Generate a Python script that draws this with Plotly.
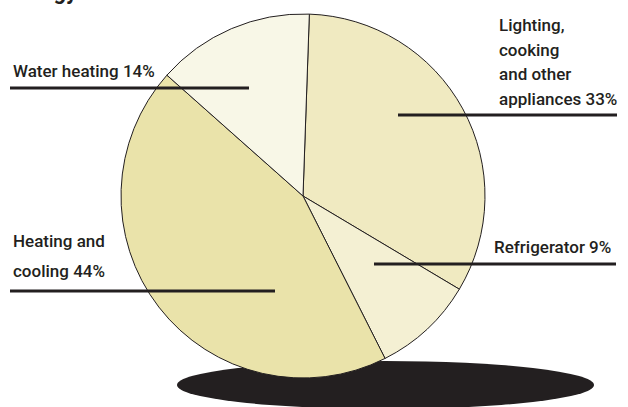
import plotly.graph_objects as go

W, H = 628, 407

labels = ["Lighting, cooking and other appliances", "Refrigerator", "Heating and cooling", "Water heating"]
values = [33, 9, 44, 14]
colors = ["#F0EAC1", "#F4F0D3", "#EAE3AA", "#F8F7E7"]

# label text lines: (text, x_px_left, baseline_px_from_top)
label_lines = [
    ("Water heating 14%", 11, 77),
    ("Lighting,", 497, 31),
    ("cooking", 497, 56),
    ("and other", 497, 80),
    ("appliances 33%", 497, 105),
    ("Heating and", 11, 247),
    ("cooling 44%", 11, 277),
    ("Refrigerator 9%", 492, 253),
]
# leader lines: (x0, x1, y) in px
leaders = [
    (10, 249, 88),
    (398, 617, 115),
    (10, 275, 291),
    (374, 616, 264),
]

FS = 17
TXT = "#231F20"
FONT = "Roboto"

fig = go.Figure()
fig.add_trace(go.Pie(
    labels=labels, values=values, sort=False, direction="clockwise", rotation=2,
    marker=dict(colors=colors, line=dict(color=TXT, width=1)),
    textinfo="none", hoverinfo="label+percent", showlegend=False,
    domain=dict(x=[121 / W, 485 / W], y=[(H - 378) / H, (H - 14) / H]),
))

shapes = [dict(type="circle", xref="paper", yref="paper", layer="below",
               x0=177 / W, x1=594 / W, y0=(H - 409) / H, y1=(H - 361) / H,
               fillcolor=TXT, line=dict(width=0))]
for x0, x1, y in leaders:
    shapes.append(dict(type="line", xref="paper", yref="paper", layer="above",
                       x0=x0 / W, x1=x1 / W, y0=(H - y) / H, y1=(H - y) / H,
                       line=dict(color=TXT, width=3)))

annotations = []
for t, x, base in label_lines:
    yc = base - 0.342 * FS
    annotations.append(dict(text=t, xref="paper", yref="paper", x=x / W, y=(H - yc) / H,
                            xanchor="left", yanchor="middle", showarrow=False,
                            font=dict(family=FONT, size=FS, color=TXT, weight=500)))
annotations.append(dict(text="<b>Energy</b>", xref="paper", yref="paper", x=80 / W, y=(H - 6) / H,
                        xanchor="right", yanchor="bottom", showarrow=False,
                        font=dict(family=FONT, size=22, color=TXT)))

fig.update_layout(width=W, height=H, margin=dict(l=0, r=0, t=0, b=0),
                  paper_bgcolor="white", plot_bgcolor="white",
                  shapes=shapes, annotations=annotations)
fig.write_html("out.html")
